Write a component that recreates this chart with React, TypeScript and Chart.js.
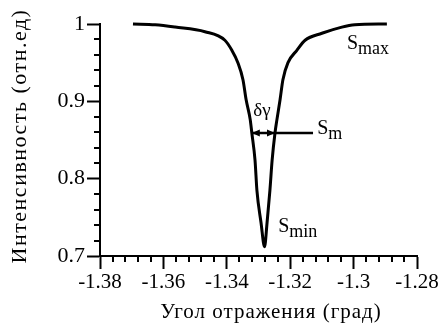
import React, { useEffect, useRef } from "react";
import { Chart, registerables } from "chart.js";

Chart.register(...registerables);

// ---- data ----
const angle = [
  -1.3696, -1.3626, -1.3563, -1.3469, -1.3406, -1.3384, -1.3365, -1.3349, -1.3339, -1.3326,
  -1.3321, -1.3311, -1.3305, -1.3292, -1.3281, -1.3273, -1.3264, -1.3257, -1.3248, -1.3242,
  -1.3232, -1.3223, -1.3207, -1.3179, -1.3153, -1.31, -1.3037, -1.2996, -1.2895,
];
const intensity = [
  1.0, 0.999, 0.996, 0.99, 0.979, 0.966, 0.95, 0.928, 0.902, 0.876,
  0.859, 0.824, 0.785, 0.743, 0.712, 0.743, 0.785, 0.824, 0.859, 0.876,
  0.902, 0.928, 0.95, 0.966, 0.979, 0.988, 0.996, 0.999, 1.0,
];

const X_MIN = -1.38;
const X_MAX = -1.28;
const X_MAJOR = 0.02;
const X_MINOR = 0.004;
const Y_MIN = 0.7;
const Y_MAX = 1.0;
const Y_MAJOR = 0.1;
const Y_MINOR = 0.02;

const xTitle = "Угол отражения (град)";
const yTitle = "Интенсивность (отн.ед)";

// annotation anchors (data units)
const smLevel = 0.859;
const widthLeft = -1.3321;
const widthRight = -1.3248;
const smLineEnd = -1.3128;
const deltaLabel = { text: "δγ", x: -1.3289, y: 0.881 };
const smLabel = { main: "S", sub: "m", x: -1.3115, y: 0.858 };
const sminLabel = { main: "S", sub: "min", x: -1.3238, y: 0.731 };
const smaxLabel = { main: "S", sub: "max", x: -1.3021, y: 0.968 };

const SERIF = "'Liberation Serif', 'Times New Roman', serif";

const decorPlugin = {
  id: "decor",
  afterDraw(chart: any) {
    const { ctx, chartArea } = chart;
    const xs = chart.scales.x;
    const ys = chart.scales.y;
    ctx.save();
    ctx.strokeStyle = "#000";
    ctx.fillStyle = "#000";
    ctx.lineWidth = 2;
    // minor ticks x
    const nx = Math.round((X_MAX - X_MIN) / X_MINOR);
    for (let i = 0; i <= nx; i++) {
      if (i % Math.round(X_MAJOR / X_MINOR) === 0) continue;
      const px = Math.round(xs.getPixelForValue(X_MIN + i * X_MINOR));
      ctx.beginPath();
      ctx.moveTo(px, chartArea.bottom);
      ctx.lineTo(px, chartArea.bottom + 6);
      ctx.stroke();
    }
    const ny = Math.round((Y_MAX - Y_MIN) / Y_MINOR);
    for (let i = 0; i <= ny; i++) {
      if (i % Math.round(Y_MAJOR / Y_MINOR) === 0) continue;
      const py = Math.round(ys.getPixelForValue(Y_MIN + i * Y_MINOR));
      ctx.beginPath();
      ctx.moveTo(chartArea.left, py);
      ctx.lineTo(chartArea.left - 6, py);
      ctx.stroke();
    }

    // axis titles
    ctx.textAlign = "center";
    ctx.textBaseline = "alphabetic";
    ctx.font = `21px ${SERIF}`;
    (ctx as any).letterSpacing = "1px";
    ctx.fillText(xTitle, 271, 318);
    ctx.save();
    ctx.font = `22px ${SERIF}`;
    (ctx as any).letterSpacing = "1.5px";
    ctx.translate(26, 136);
    ctx.rotate(-Math.PI / 2);
    ctx.fillText(yTitle, 0, 0);
    ctx.restore();
    (ctx as any).letterSpacing = "0px";

    // width arrow
    const y = ys.getPixelForValue(smLevel);
    const xl = xs.getPixelForValue(widthLeft);
    const xr = xs.getPixelForValue(widthRight);
    const xe = xs.getPixelForValue(smLineEnd);
    ctx.lineWidth = 2.5;
    ctx.beginPath();
    ctx.moveTo(xl, y);
    ctx.lineTo(xe, y);
    ctx.stroke();
    ctx.beginPath();
    ctx.moveTo(xl, y);
    ctx.lineTo(xl + 8, y - 3.5);
    ctx.lineTo(xl + 8, y + 3.5);
    ctx.closePath();
    ctx.fill();
    ctx.beginPath();
    ctx.moveTo(xr, y);
    ctx.lineTo(xr - 8, y - 3.5);
    ctx.lineTo(xr - 8, y + 3.5);
    ctx.closePath();
    ctx.fill();

    // labels
    ctx.font = `19px ${SERIF}`;
    ctx.textAlign = "center";
    ctx.fillText(deltaLabel.text, xs.getPixelForValue(deltaLabel.x), ys.getPixelForValue(deltaLabel.y));
    ctx.textAlign = "left";
    for (const l of [smLabel, sminLabel, smaxLabel]) {
      const px = xs.getPixelForValue(l.x);
      const py = ys.getPixelForValue(l.y);
      ctx.font = `20px ${SERIF}`;
      ctx.fillText(l.main, px, py);
      const w = ctx.measureText(l.main).width;
      ctx.font = `18px ${SERIF}`;
      ctx.fillText(l.sub, px + w, py + 5);
    }
    ctx.restore();
  },
};

export default function App() {
  const ref = useRef<HTMLCanvasElement | null>(null);
  useEffect(() => {
    if (!ref.current) return;
    const chart = new Chart(ref.current, {
      type: "scatter",
      data: {
        datasets: [
          {
            data: angle.map((a, i) => ({ x: a, y: intensity[i] })),
            showLine: true,
            borderColor: "#000",
            borderWidth: 3,
            pointRadius: 0,
            cubicInterpolationMode: "monotone",
            clip: false,
          } as any,
        ],
      },
      options: {
        responsive: false,
        animation: false,
        events: [],
        layout: { padding: { top: 24, right: 28, left: 0, bottom: 0 } },
        plugins: { legend: { display: false }, tooltip: { enabled: false } },
        scales: {
          x: {
            type: "linear",
            min: X_MIN,
            max: X_MAX,
            ticks: {
              stepSize: X_MAJOR,
              color: "#000",
              font: { family: SERIF, size: 21 },
              padding: 1,
              maxRotation: 0,
              autoSkip: false,
              callback: (v: any) => String(Number(Number(v).toFixed(3))),
            },
            grid: { drawOnChartArea: false, tickLength: 13, tickWidth: 2, tickColor: "#000" },
            border: { color: "#000", width: 2 },
            afterFit: (s: any) => {
              s.height = 74;
            },
          },
          y: {
            type: "linear",
            min: Y_MIN,
            max: Y_MAX,
            ticks: {
              stepSize: Y_MAJOR,
              color: "#000",
              font: { family: SERIF, size: 22 },
              padding: 2,
              callback: (v: any) => String(Number(Number(v).toFixed(3))),
            },
            grid: { drawOnChartArea: false, tickLength: 13, tickWidth: 2, tickColor: "#000" },
            border: { color: "#000", width: 2 },
            afterFit: (s: any) => {
              s.width = 100;
            },
          },
        },
      },
      plugins: [decorPlugin],
    });
    return () => chart.destroy();
  }, []);
  return (
    <div style={{ position: "absolute", left: 0, top: 0, width: 445, height: 330, background: "#fff" }}>
      <canvas ref={ref} width={445} height={330} />
    </div>
  );
}
